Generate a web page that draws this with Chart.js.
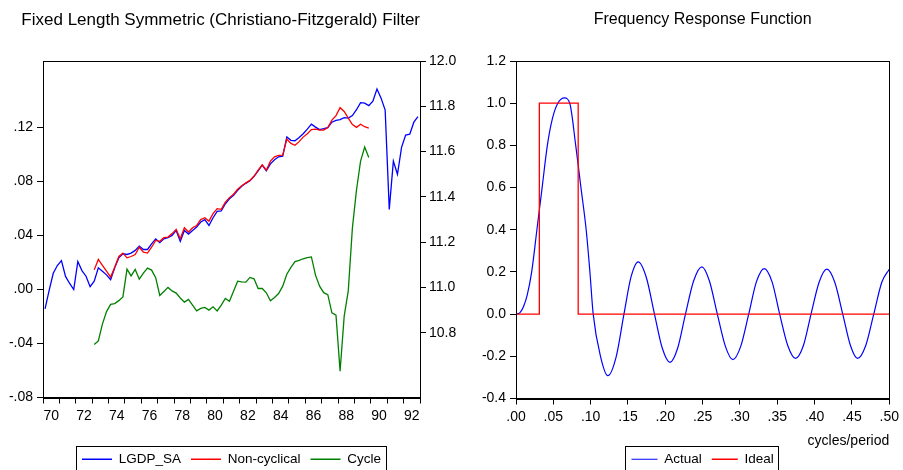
<!DOCTYPE html>
<html>
<head>
<meta charset="utf-8">
<script src="https://cdn.jsdelivr.net/npm/chart.js@4.4.1/dist/chart.umd.min.js"></script>
<style>
html, body { margin: 0; padding: 0; background: #fff; overflow: hidden; }
#left { position: absolute; left: 0; top: 0; width: 465px; height: 476px; }
#right { position: absolute; left: 465px; top: 0; width: 438px; height: 476px; }
</style>
</head>
<body>
<div id="left"><canvas id="cf"></canvas></div>
<div id="right"><canvas id="freq"></canvas></div>
<script>
// quarterly sample 1970Q1 - 1992Q4, filter output 1973Q1 - 1989Q4
const startYear = 1970;
const filterStart = 12;

const lgdpSa = [
    10.906, 10.987, 11.063, 11.097, 11.119, 11.049, 11.018, 10.991, 11.115, 11.075,
    11.050, 11.004, 11.028, 11.087, 11.072, 11.056, 11.035, 11.087, 11.131, 11.149,
    11.146, 11.152, 11.164, 11.183, 11.168, 11.168, 11.193, 11.215, 11.198, 11.215,
    11.220, 11.230, 11.252, 11.204, 11.252, 11.236, 11.252, 11.267, 11.289, 11.300,
    11.274, 11.308, 11.336, 11.338, 11.370, 11.392, 11.407, 11.429, 11.447, 11.460,
    11.471, 11.491, 11.515, 11.540, 11.515, 11.546, 11.564, 11.577, 11.580, 11.665,
    11.650, 11.648, 11.662, 11.679, 11.699, 11.721, 11.708, 11.697, 11.701, 11.706,
    11.730, 11.738, 11.741, 11.750, 11.748, 11.759, 11.785, 11.816, 11.814, 11.803,
    11.823, 11.876, 11.836, 11.783, 11.345, 11.558, 11.500, 11.619, 11.673, 11.677,
    11.730, 11.754
];

const nonCyclical = [
    11.078, 11.124, 11.098, 11.072, 11.046, 11.090, 11.137, 11.152, 11.131, 11.137,
    11.146, 11.178, 11.156, 11.152, 11.178, 11.208, 11.204, 11.220, 11.223, 11.238,
    11.257, 11.215, 11.264, 11.245, 11.264, 11.274, 11.300, 11.308, 11.293, 11.326,
    11.348, 11.345, 11.377, 11.397, 11.412, 11.434, 11.449, 11.462, 11.473, 11.491,
    11.518, 11.542, 11.518, 11.558, 11.577, 11.583, 11.584, 11.655, 11.636, 11.628,
    11.644, 11.664, 11.679, 11.697, 11.699, 11.695, 11.695, 11.706, 11.739, 11.759,
    11.794, 11.777, 11.748, 11.719, 11.707, 11.721, 11.710, 11.704
];

const cycle = [
    -0.0407, -0.0381, -0.0257, -0.0164, -0.0111, -0.0105, -0.0083, -0.0055, 0.0150, 0.0100,
    0.0148, 0.0076, 0.0121, 0.0158, 0.0143, 0.0087, -0.0044, -0.0015, 0.0015, -0.0011,
    -0.0027, -0.0063, -0.0094, -0.0074, -0.0116, -0.0159, -0.0141, -0.0133, -0.0153, -0.0129,
    -0.0159, -0.0116, -0.0067, -0.0087, -0.0013, 0.0061, 0.0056, 0.0054, 0.0089, 0.0079,
    0.0007, 0.0007, -0.0025, -0.0084, -0.0059, -0.0030, 0.0024, 0.0113, 0.0163, 0.0206,
    0.0215, 0.0227, 0.0236, 0.0241, 0.0106, 0.0024, -0.0024, -0.0039, -0.0173, -0.0190,
    -0.0605, -0.0198, -0.0009, 0.0454, 0.0736, 0.0950, 0.1054, 0.0976
];

const yearLabels = ['70', '72', '74', '76', '78', '80', '82', '84', '86', '88', '90', '92'];
const cycleTicks = [-0.08, -0.04, 0, 0.04, 0.08, 0.12];
const levelTicks = [10.8, 11.0, 11.2, 11.4, 11.6, 11.8, 12.0];

// frequency response
const actualFreq = [
    0, 0.005, 0.01, 0.015, 0.021, 0.028, 0.035, 0.042, 0.049, 0.056,
    0.065, 0.072, 0.08, 0.087, 0.094, 0.099, 0.1034, 0.1135, 0.123, 0.134,
    0.1446, 0.154, 0.1636, 0.1745, 0.1855, 0.196, 0.2063, 0.2165, 0.227, 0.238,
    0.249, 0.259, 0.2697, 0.2805, 0.2905, 0.301, 0.3117, 0.322, 0.3325, 0.343,
    0.3532, 0.364, 0.3744, 0.385, 0.3952, 0.406, 0.4164, 0.427, 0.4377, 0.448,
    0.4576, 0.4685, 0.4792, 0.49, 0.5
];
const actualGain = [
    0, 0.006, 0.035, 0.09, 0.2, 0.4, 0.6, 0.8, 0.93, 1.0,
    1.025, 1.0, 0.8, 0.6, 0.4, 0.2, 0, -0.205, -0.292, -0.205,
    0, 0.175, 0.248, 0.175, 0, -0.162, -0.229, -0.162, 0, 0.158,
    0.224, 0.158, 0, -0.153, -0.216, -0.153, 0, 0.153, 0.216, 0.153,
    0, -0.149, -0.21, -0.149, 0, 0.151, 0.213, 0.151, 0, -0.149,
    -0.21, -0.149, 0, 0.151, 0.213
];
const idealFreq = [0, 0.03125, 0.03125, 0.0833, 0.0833, 0.5];
const idealGain = [0, 0, 1, 1, 0, 0];

const freqTicks = [0, 0.05, 0.10, 0.15, 0.20, 0.25, 0.30, 0.35, 0.40, 0.45, 0.50];
const gainTicks = [-0.4, -0.2, 0, 0.2, 0.4, 0.6, 0.8, 1.0, 1.2];


Chart.defaults.font.family = '"Liberation Sans", Arial, sans-serif';
Chart.defaults.color = '#000';

const qx = i => startYear + (i + 0.5) / 4;

// box round the plot area and round the legend, like EViews
const framePlugin = {
    id: 'frame',
    afterDraw(chart) {
        const ctx = chart.ctx;
        const a = chart.chartArea;
        ctx.save();
        ctx.strokeStyle = '#000';
        ctx.lineWidth = 1;
        ctx.strokeRect(Math.round(a.left) + 0.5, Math.round(a.top) + 0.5,
            Math.round(a.right - a.left), Math.round(a.bottom - a.top));
        const boxes = chart.legend && chart.legend.legendHitBoxes;
        if (boxes && boxes.length) {
            const l = Math.min(...boxes.map(b => b.left));
            const r = Math.max(...boxes.map(b => b.left + b.width));
            const t = Math.min(...boxes.map(b => b.top));
            const bt = Math.max(...boxes.map(b => b.top + b.height));
            ctx.strokeRect(Math.round(l) - 5.5, Math.round(t) - 6.5, Math.round(r - l) + 11, Math.round(bt - t) + 20);
        }
        ctx.restore();
    }
};

const legendOpts = (w) => ({
    position: 'bottom',
    fullSize: false,
    labels: {
        usePointStyle: true,
        pointStyle: 'line',
        pointStyleWidth: w,
        padding: 10,
        font: { size: 13.5 },
        sort: (a, b) => a.datasetIndex - b.datasetIndex
    }
});

const fmtCycle = v => (v < 0 ? '-' : '') + '.' + String(Math.round(Math.abs(v) * 100)).padStart(2, '0');

const cfChart = new Chart(document.getElementById('cf'), {
    type: 'line',
    data: {
        datasets: [{
            label: 'LGDP_SA',
            data: lgdpSa.map((v, i) => ({ x: qx(i), y: v })),
            borderColor: '#0000ff',
            backgroundColor: '#0000ff',
            borderWidth: 1.3,
            pointRadius: 0,
            yAxisID: 'yR',
            order: 3
        }, {
            label: 'Non-cyclical',
            data: nonCyclical.map((v, i) => ({ x: qx(i + filterStart), y: v })),
            borderColor: '#ff0000',
            backgroundColor: '#ff0000',
            borderWidth: 1.3,
            pointRadius: 0,
            yAxisID: 'yR',
            order: 2
        }, {
            label: 'Cycle',
            data: cycle.map((v, i) => ({ x: qx(i + filterStart), y: v })),
            borderColor: '#008000',
            backgroundColor: '#008000',
            borderWidth: 1.3,
            pointRadius: 0,
            yAxisID: 'yL',
            order: 1
        }]
    },
    options: {
        responsive: true,
        maintainAspectRatio: false,
        animation: false,
        layout: { padding: 0 },
        plugins: {
            title: {
                display: true,
                // trailing spaces pull the centred title a little to the left, as in EViews
                text: 'Fixed Length Symmetric (Christiano-Fitzgerald) Filter     ',
                font: { size: 17, weight: 'normal' },
                padding: { top: 10, bottom: 30.6 }
            },
            legend: legendOpts(30),
            tooltip: { enabled: false }
        },
        scales: {
            x: {
                type: 'linear',
                min: 1970,
                max: 1993,
                afterBuildTicks: s => {
                    const t = [];
                    for (let y = 1970; y <= 1993; y++) t.push({ value: y });
                    yearLabels.forEach(l => t.push({ value: 1900 + Number(l) + 0.5 }));
                    t.sort((a, b) => a.value - b.value);
                    s.ticks = t;
                },
                afterFit: s => { s.height = 45; },
                grid: {
                    drawOnChartArea: false,
                    tickLength: 6,
                    color: c => (c.tick && Number.isInteger(c.tick.value)) ? '#000' : 'rgba(0,0,0,0)'
                },
                border: { color: '#000' },
                ticks: {
                    autoSkip: false,
                    maxRotation: 0,
                    padding: 4,
                    font: { size: 14 },
                    callback: v => Number.isInteger(v) ? '' : String(Math.floor(v)).slice(2)
                }
            },
            yL: {
                position: 'left',
                min: -0.08,
                max: 0.1691,
                afterBuildTicks: s => { s.ticks = cycleTicks.map(v => ({ value: v })); },
                afterFit: s => { s.width = 43; },
                grid: { drawOnChartArea: false, tickLength: 6, color: '#000' },
                border: { color: '#000' },
                ticks: { padding: 4, font: { size: 14 }, callback: v => fmtCycle(v) }
            },
            yR: {
                position: 'right',
                min: 10.5146,
                max: 12.0,
                afterBuildTicks: s => { s.ticks = levelTicks.map(v => ({ value: v })); },
                afterFit: s => { s.width = 45; },
                grid: { drawOnChartArea: false, tickLength: 6, color: '#000' },
                border: { color: '#000' },
                ticks: { padding: 3, font: { size: 14 }, callback: v => v.toFixed(1) }
            }
        }
    },
    plugins: [framePlugin]
});

const freqChart = new Chart(document.getElementById('freq'), {
    type: 'line',
    data: {
        datasets: [{
            label: 'Actual',
            data: actualFreq.map((f, i) => ({ x: f, y: actualGain[i] })),
            borderColor: '#0000ff',
            backgroundColor: '#0000ff',
            borderWidth: 1.2,
            pointRadius: 0,
            cubicInterpolationMode: 'monotone',
            order: 2
        }, {
            label: 'Ideal',
            data: idealFreq.map((f, i) => ({ x: f, y: idealGain[i] })),
            borderColor: '#ff0000',
            backgroundColor: '#ff0000',
            borderWidth: 1.3,
            pointRadius: 0,
            order: 1
        }]
    },
    options: {
        responsive: true,
        maintainAspectRatio: false,
        animation: false,
        layout: { padding: { left: 0, right: 10, top: 0, bottom: 0 } },
        plugins: {
            title: {
                display: true,
                text: 'Frequency Response Function',
                fullSize: false,
                font: { size: 16, weight: 'normal' },
                padding: { top: 10.4, bottom: 31.4 }
            },
            legend: legendOpts(26),
            tooltip: { enabled: false }
        },
        scales: {
            x: {
                type: 'linear',
                min: 0,
                max: 0.5,
                afterBuildTicks: s => { s.ticks = freqTicks.map(v => ({ value: v })); },
                afterFit: s => { s.height = 44; },
                grid: { drawOnChartArea: false, tickLength: 6, color: '#000' },
                border: { color: '#000' },
                ticks: {
                    autoSkip: false,
                    maxRotation: 0,
                    padding: 4,
                    font: { size: 14 },
                    callback: v => '.' + String(Math.round(v * 100)).padStart(2, '0')
                },
                title: {
                    display: true,
                    text: 'cycles/period',
                    align: 'end',
                    font: { size: 14 },
                    padding: { top: 0, bottom: -7 }
                }
            },
            y: {
                min: -0.4,
                max: 1.2,
                afterBuildTicks: s => { s.ticks = gainTicks.map(v => ({ value: v })); },
                afterFit: s => { s.width = 51; },
                grid: { drawOnChartArea: false, tickLength: 6, color: '#000' },
                border: { color: '#000' },
                ticks: { padding: 4, font: { size: 14 }, callback: v => v.toFixed(1) }
            }
        }
    },
    plugins: [framePlugin]
});
</script>
</body>
</html>
